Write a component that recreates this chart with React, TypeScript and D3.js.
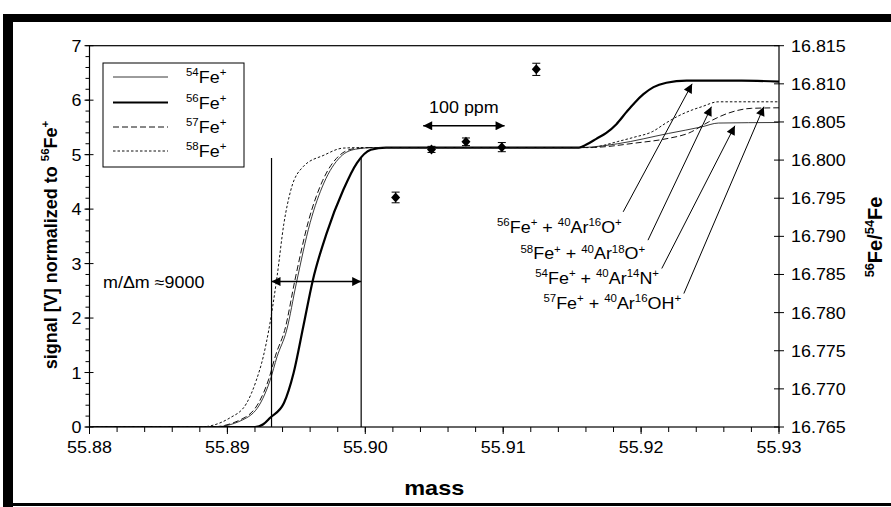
import React from "react";
import * as d3 from "d3";

// ---------- data ----------
const massTicks = [55.88, 55.89, 55.9, 55.91, 55.92, 55.93];
const massTickLabels = ["55.88", "55.89", "55.90", "55.91", "55.92", "55.93"];
const signalTicks = [0, 1, 2, 3, 4, 5, 6, 7];
const ratioTicks = [16.765, 16.77, 16.775, 16.78, 16.785, 16.79, 16.795, 16.8, 16.805, 16.81, 16.815];

const fe54: [number, number][] = [
  [55.88, 0], [55.889, 0], [55.8914, 0.17], [55.8924, 0.44], [55.8931, 0.86], [55.8936, 1.29],
  [55.8943, 1.78], [55.895, 2.64], [55.896, 3.75], [55.897, 4.48], [55.8982, 4.96], [55.8993, 5.1],
  [55.9007, 5.13], [55.905, 5.13], [55.91, 5.13], [55.9155, 5.13], [55.9164, 5.14], [55.9183, 5.2],
  [55.922, 5.39], [55.9244, 5.51], [55.9256, 5.58], [55.93, 5.59],
];
const fe56: [number, number][] = [
  [55.88, 0], [55.892, 0], [55.8926, 0.05], [55.8931, 0.17], [55.8941, 0.44], [55.8948, 0.99],
  [55.8955, 1.84], [55.8962, 2.7], [55.8972, 3.56], [55.8984, 4.35], [55.8994, 4.85],
  [55.9004, 5.09], [55.9015, 5.13], [55.91, 5.13], [55.9155, 5.13], [55.916, 5.18], [55.91675, 5.29],
  [55.91748, 5.4], [55.91821, 5.56], [55.91893, 5.78], [55.91952, 5.95], [55.92017, 6.11],
  [55.9209, 6.24], [55.92183, 6.32], [55.9233, 6.36], [55.9273, 6.36], [55.93, 6.34],
];
const fe57: [number, number][] = [
  [55.88, 0], [55.8888, 0], [55.8913, 0.18], [55.8923, 0.46], [55.893, 0.88], [55.8935, 1.32],
  [55.8942, 1.82], [55.8949, 2.7], [55.8959, 3.8], [55.8969, 4.52], [55.8981, 4.98], [55.8992, 5.11],
  [55.9006, 5.13], [55.916, 5.13], [55.9171, 5.14], [55.9195, 5.21], [55.922, 5.3], [55.9234, 5.39],
  [55.9249, 5.6], [55.9263, 5.76], [55.928, 5.85], [55.93, 5.86],
];
const fe58: [number, number][] = [
  [55.88, 0], [55.888, 0], [55.8902, 0.17], [55.8914, 0.44], [55.8921, 0.86], [55.8926, 1.29],
  [55.893, 1.78], [55.8936, 2.76], [55.8941, 3.74], [55.8946, 4.35], [55.8955, 4.78], [55.897, 4.99],
  [55.8984, 5.12], [55.9, 5.13], [55.9165, 5.13], [55.9171, 5.16], [55.9183, 5.24], [55.9195, 5.32],
  [55.9208, 5.42], [55.9218, 5.58], [55.9227, 5.71], [55.9237, 5.82], [55.9244, 5.88],
  [55.9256, 5.97], [55.93, 5.97],
];

const ratioMass = [55.9022, 55.9048, 55.9073, 55.9099, 55.9124];
const ratioValue = [16.7951, 16.8014, 16.8024, 16.8017, 16.8119];
const ratioErr = [0.0007, 0.0004, 0.0005, 0.0006, 0.0008];

const legendNames = ["^{54}Fe^{+}", "^{56}Fe^{+}", "^{57}Fe^{+}", "^{58}Fe^{+}"];

// resolution annotation
const resMass = [55.8932, 55.8997];
const resTop = 4.94;
const resArrowSignal = 2.67;
const resLabel = "m/\u0394m \u22489000";

// 100 ppm annotation
const ppmMass = [55.9042, 55.9101];
const ppmSignal = 5.53;
const ppmLabel = "100 ppm";

// interference labels and arrows
const interfLabels = [
  "^{56}Fe^{+} + ^{40}Ar^{16}O^{+}",
  "^{58}Fe^{+} + ^{40}Ar^{18}O^{+}",
  "^{54}Fe^{+} + ^{40}Ar^{14}N^{+}",
  "^{57}Fe^{+} + ^{40}Ar^{16}OH^{+}",
];
const interfLabelMass = [55.9186, 55.9203, 55.9213, 55.9229];
const interfLabelSignal = [3.56, 3.08, 2.63, 2.17];
const arrowFrom: [number, number][] = [[55.9187, 3.95], [55.9205, 3.43], [55.9215, 2.91], [55.9231, 2.45]];
const arrowTo: [number, number][] = [[55.9237, 6.3], [55.9251, 5.88], [55.9268, 5.53], [55.9289, 5.88]];

// ---------- helpers ----------
const FONT = "'Liberation Sans', Arial, Helvetica, sans-serif";
const SX = 1.12;

function rich(str: string, size: number) {
  const parts: { t: string; sup: boolean }[] = [];
  const re = /\^\{([^}]*)\}/g;
  let last = 0;
  let m: RegExpExecArray | null;
  while ((m = re.exec(str))) {
    if (m.index > last) parts.push({ t: str.slice(last, m.index), sup: false });
    parts.push({ t: m[1], sup: true });
    last = m.index + m[0].length;
  }
  if (last < str.length) parts.push({ t: str.slice(last), sup: false });
  let shifted = false;
  const sh = size * 0.42;
  return parts.map((p, i) => {
    let dy = 0;
    if (p.sup && !shifted) dy = -sh;
    if (!p.sup && shifted) dy = sh;
    shifted = p.sup;
    return (
      <tspan key={i} dy={dy} fontSize={p.sup ? size * 0.64 : size}>
        {p.t}
      </tspan>
    );
  });
}

function T(props: {
  x: number; y: number; size: number; anchor?: string; weight?: string | number; rot?: number; sx?: number;
  children: React.ReactNode;
}) {
  const { x, y, size, anchor = "start", weight = "normal", rot = 0, sx = SX } = props;
  const tr = rot ? `translate(${x},${y}) rotate(${rot})` : `translate(${x},${y}) scale(${sx},1)`;
  return (
    <g transform={tr}>
      <text x={0} y={0} fontSize={size} fontFamily={FONT} fontWeight={weight} textAnchor={anchor} fill="#000">
        {props.children}
      </text>
    </g>
  );
}

export default function App() {
  const W = 891, H = 507;
  const x = d3.scaleLinear().domain([55.88, 55.93]).range([89.5, 779]);
  const yL = d3.scaleLinear().domain([0, 7]).range([427, 45.7]);
  const yR = d3.scaleLinear().domain([16.765, 16.815]).range([427, 45.7]);
  const line = d3.line<[number, number]>().x((d) => x(d[0])).y((d) => yL(d[1])).curve(d3.curveMonotoneX);

  const [x0, x1] = x.range();
  const [yb, yt] = yL.range();

  const minorX = d3.range(0, 26).map((i) => 55.88 + i * 0.002);
  const minorY = d3.range(0, 36).map((i) => i * 0.2);

  const series = [
    { d: fe54, w: 0.9, dash: undefined, col: "#222" },
    { d: fe56, w: 2.2, dash: undefined, col: "#000" },
    { d: fe57, w: 1.0, dash: "6,3", col: "#111" },
    { d: fe58, w: 1.0, dash: "2.5,2", col: "#111" },
  ];

  return (
    <svg width={W} height={H} style={{ position: "absolute", left: 0, top: 0, background: "#fff" }}>
      <defs>
        <marker id="ah" viewBox="0 0 10 10" refX="10" refY="5" markerWidth="11" markerHeight="9"
          markerUnits="userSpaceOnUse" orient="auto-start-reverse">
          <path d="M0,0 L10,5 L0,10 z" fill="#000" />
        </marker>
        <clipPath id="plot">
          <rect x={x0} y={yt} width={x1 - x0} height={yb - yt} />
        </clipPath>
      </defs>
      <rect x={0} y={0} width={W} height={H} fill="#fff" />
      {/* outer frame */}
      <rect x={3} y={14} width={W - 3} height={8} fill="#000" />
      <rect x={3} y={14} width={10} height={H - 14} fill="#000" />
      <rect x={3} y={503} width={W - 3} height={3} fill="#000" />

      {/* plot box */}
      <rect x={x0} y={yt} width={x1 - x0} height={yb - yt} fill="none" stroke="#000" strokeWidth={1.2} />

      {/* left axis ticks */}
      {minorY.map((v, i) => (
        <line key={"my" + i} x1={x0 - 4} x2={x0} y1={yL(v)} y2={yL(v)} stroke="#000" strokeWidth={1} />
      ))}
      {signalTicks.map((v) => (
        <g key={"ly" + v}>
          <line x1={x0 - 5} x2={x0 + 4} y1={yL(v)} y2={yL(v)} stroke="#000" strokeWidth={1} />
          <T x={x0 - 8} y={yL(v) + 6} size={16} anchor="end">{String(v)}</T>
        </g>
      ))}
      {/* right axis ticks */}
      {ratioTicks.map((v) => (
        <g key={"ry" + v}>
          <line x1={x1 - 5} x2={x1 + 5} y1={yR(v)} y2={yR(v)} stroke="#000" strokeWidth={1} />
          <T x={x1 + 12} y={yR(v) + 6} size={16}>{v.toFixed(3)}</T>
        </g>
      ))}
      {/* bottom axis ticks */}
      {minorX.map((v, i) => (
        <line key={"mx" + i} x1={x(v)} x2={x(v)} y1={yb} y2={yb + 5} stroke="#000" strokeWidth={1} />
      ))}
      {massTicks.map((v, i) => (
        <g key={"mt" + i}>
          <line x1={x(v)} x2={x(v)} y1={yb} y2={yb + 7} stroke="#000" strokeWidth={1} />
          <T x={x(v)} y={yb + 26} size={16} anchor="middle">{massTickLabels[i]}</T>
        </g>
      ))}

      {/* axis titles */}
      <T x={(x0 + x1) / 2} y={495} size={21} anchor="middle" weight="bold">mass</T>
      <T x={57} y={245} size={18} anchor="middle" weight="bold" rot={-90}>
        {rich("signal [V] normalized to ^{56}Fe^{+}", 18)}
      </T>
      <T x={882} y={237} size={20} anchor="middle" weight="bold" rot={-90}>
        {rich("^{56}Fe/^{54}Fe", 20)}
      </T>

      {/* curves */}
      <g clipPath="url(#plot)">
        {series.map((s, i) => (
          <path key={"s" + i} d={line(s.d) || ""} fill="none" stroke={s.col} strokeWidth={s.w}
            strokeDasharray={s.dash} strokeLinejoin="round" />
        ))}
      </g>

      {/* ratio points */}
      {ratioMass.map((m, i) => {
        const cx = x(m), cy = yR(ratioValue[i]);
        const e1 = yR(ratioValue[i] + ratioErr[i]), e2 = yR(ratioValue[i] - ratioErr[i]);
        return (
          <g key={"p" + i}>
            <line x1={cx} x2={cx} y1={e1} y2={e2} stroke="#000" strokeWidth={1} />
            <line x1={cx - 4} x2={cx + 4} y1={e1} y2={e1} stroke="#000" strokeWidth={1} />
            <line x1={cx - 4} x2={cx + 4} y1={e2} y2={e2} stroke="#000" strokeWidth={1} />
            <path d={`M${cx},${cy - 5} L${cx + 4.5},${cy} L${cx},${cy + 5} L${cx - 4.5},${cy} Z`} fill="#000" />
          </g>
        );
      })}

      {/* resolution annotation */}
      {resMass.map((m, i) => (
        <line key={"rl" + i} x1={x(m)} x2={x(m)} y1={yL(resTop)} y2={yb} stroke="#000" strokeWidth={1.2} />
      ))}
      <line x1={x(resMass[0])} x2={x(resMass[1])} y1={yL(resArrowSignal)} y2={yL(resArrowSignal)}
        stroke="#000" strokeWidth={1.5} markerStart="url(#ah)" markerEnd="url(#ah)" />
      <T x={103} y={yL(resArrowSignal) + 6} size={16}>{resLabel}</T>

      {/* 100 ppm */}
      <line x1={x(ppmMass[0])} x2={x(ppmMass[1])} y1={yL(ppmSignal)} y2={yL(ppmSignal)}
        stroke="#000" strokeWidth={1.5} markerStart="url(#ah)" markerEnd="url(#ah)" />
      <T x={x((ppmMass[0] + ppmMass[1]) / 2)} y={yL(ppmSignal) - 13} size={16} anchor="middle">{ppmLabel}</T>

      {/* interference labels */}
      {interfLabels.map((l, i) => (
        <g key={"il" + i}>
          <T x={x(interfLabelMass[i])} y={yL(interfLabelSignal[i])} size={16} anchor="end">{rich(l, 16)}</T>
          <line x1={x(arrowFrom[i][0])} y1={yL(arrowFrom[i][1])} x2={x(arrowTo[i][0])} y2={yL(arrowTo[i][1])}
            stroke="#000" strokeWidth={1} markerEnd="url(#ah)" />
        </g>
      ))}

      {/* legend */}
      <rect x={103} y={63} width={141} height={104} fill="#fff" stroke="#000" strokeWidth={1} />
      {legendNames.map((n, i) => {
        const ly = [77, 102.5, 127, 151][i];
        const s = series[i];
        return (
          <g key={"lg" + i}>
            <line x1={113} x2={168} y1={ly} y2={ly} stroke={s.col} strokeWidth={s.w} strokeDasharray={s.dash} />
            <T x={186} y={ly + 6} size={16}>{rich(n, 16)}</T>
          </g>
        );
      })}
    </svg>
  );
}
